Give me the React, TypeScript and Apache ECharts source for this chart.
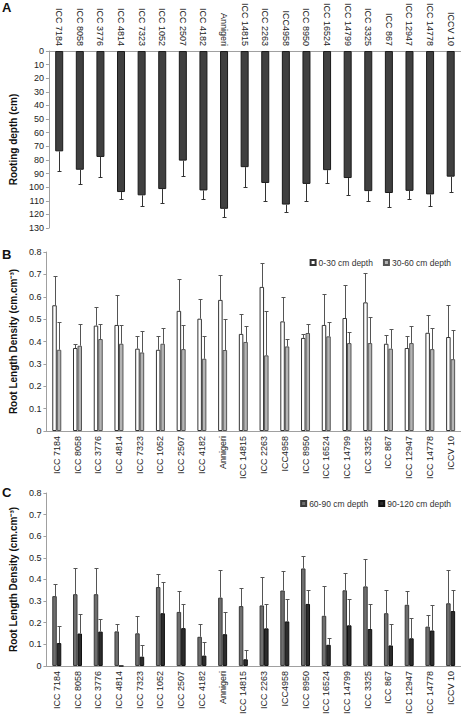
import React, { useEffect, useRef } from 'react';
import * as echarts from 'echarts';

const genotypes = ['ICC 7184', 'ICC 8058', 'ICC 3776', 'ICC 4814', 'ICC 7323', 'ICC 1052', 'ICC 2507', 'ICC 4182', 'Annigeri', 'ICC 14815', 'ICC 2263', 'ICC4958', 'ICC 8950', 'ICC 16524', 'ICC 14799', 'ICC 3325', 'ICC 867', 'ICC 12947', 'ICC 14778', 'ICCV 10'];

// Panel A: rooting depth (cm) and standard error
const rootingDepth = [73.7, 87.2, 77.8, 103.6, 106, 101.4, 80.5, 102.4, 115.9, 85.3, 96.9, 112.8, 97.6, 87.5, 93.3, 102.9, 104.3, 102.7, 105.3, 92.3];
const rootingDepthSE = [14.3, 10.6, 14.5, 5.4, 8, 10.1, 11.3, 6.6, 6, 14.5, 13.5, 5.8, 12.5, 9.8, 12.5, 7.2, 10.4, 6.3, 8.4, 11.1];

// Panel B: RLD 0-30 and 30-60 cm
const rld0to30 = [0.562, 0.371, 0.471, 0.474, 0.368, 0.363, 0.537, 0.502, 0.586, 0.434, 0.644, 0.49, 0.416, 0.474, 0.505, 0.575, 0.39, 0.371, 0.439, 0.42];
const rld0to30SE = [0.13, 0.019, 0.084, 0.134, 0.058, 0.06, 0.143, 0.089, 0.109, 0.089, 0.108, 0.108, 0.016, 0.137, 0.148, 0.132, 0.039, 0.052, 0.08, 0.145];
const rld30to60 = [0.363, 0.381, 0.411, 0.39, 0.351, 0.39, 0.366, 0.323, 0.362, 0.398, 0.338, 0.378, 0.438, 0.423, 0.393, 0.393, 0.368, 0.393, 0.366, 0.321];
const rld30to60SE = [0.124, 0.099, 0.069, 0.084, 0.097, 0.07, 0.108, 0.1, 0.139, 0.07, 0.197, 0.033, 0.04, 0.064, 0.048, 0.115, 0.088, 0.076, 0.094, 0.129];

// Panel C: RLD 60-90 and 90-120 cm
const rld60to90 = [0.323, 0.332, 0.332, 0.16, 0.151, 0.365, 0.25, 0.135, 0.316, 0.277, 0.28, 0.349, 0.451, 0.232, 0.35, 0.368, 0.244, 0.283, 0.182, 0.29];
const rld60to90SE = [0.057, 0.119, 0.119, 0.035, 0.081, 0.059, 0.096, 0.06, 0.126, 0.085, 0.132, 0.09, 0.057, 0.139, 0.079, 0.125, 0.108, 0.064, 0.054, 0.154];
const rld90to120 = [0.106, 0.15, 0.159, 0, 0.043, 0.244, 0.175, 0.048, 0.147, 0.031, 0.174, 0.206, 0.287, 0.098, 0.188, 0.171, 0.095, 0.128, 0.164, 0.254];
const rld90to120SE = [0.08, 0.091, 0.06, 0, 0.054, 0.144, 0.112, 0.061, 0.104, 0.042, 0.113, 0.102, 0.065, 0.03, 0.12, 0.116, 0.099, 0.093, 0.117, 0.096];

const depthTicks = { min: 0, max: 130, interval: 10 };
const rldTicks = { min: 0, max: 0.8, interval: 0.1 };

const FONT = "'Liberation Sans', Arial, sans-serif";
const AXIS_COLOR = '#a0a0a0';

function errorSeries(grid: number, values: number[], se: number[], offset: number, color: string) {
  return {
    type: 'custom',
    xAxisIndex: grid,
    yAxisIndex: grid,
    silent: true,
    z: 5,
    data: values.map((v, i) => [i, v, v + se[i]]),
    renderItem: (params: any, api: any) => {
      const x = api.value(0);
      const v = api.value(1);
      const e = api.value(2);
      if (!(e > v)) return null;
      const p0 = api.coord([x, v]);
      const p1 = api.coord([x, e]);
      const cx = Math.round(p0[0] + offset) + 0.5;
      const y1 = Math.round(p1[1]) + 0.5;
      return {
        type: 'group',
        children: [
          { type: 'line', shape: { x1: cx, y1: p0[1], x2: cx, y2: y1 }, style: { stroke: color, lineWidth: 1 } },
          { type: 'line', shape: { x1: cx - 2, y1, x2: cx + 2, y2: y1 }, style: { stroke: color, lineWidth: 1 } },
        ],
      };
    },
  };
}

function catAxis(grid: number, position: 'top' | 'bottom') {
  return {
    gridIndex: grid,
    type: 'category',
    data: genotypes,
    position,
    axisLine: { onZero: false, lineStyle: { color: AXIS_COLOR } },
    axisTick: { length: 3, lineStyle: { color: AXIS_COLOR } },
    axisLabel: { rotate: 90, interval: 0, fontSize: 9, margin: 5, color: '#222', fontFamily: FONT },
  };
}

function valAxis(grid: number, ticks: any, name: string, inverse: boolean, fmt: (v: number) => string) {
  return {
    gridIndex: grid,
    type: 'value',
    inverse,
    ...ticks,
    name,
    nameLocation: 'middle',
    nameGap: 24,
    nameTextStyle: { fontWeight: 'bold', fontSize: 10, color: '#111', fontFamily: FONT },
    splitLine: { show: false },
    axisLine: { show: true, lineStyle: { color: AXIS_COLOR } },
    axisTick: { show: true, length: 3, lineStyle: { color: AXIS_COLOR } },
    axisLabel: { fontSize: 9, margin: 5, color: '#222', fontFamily: FONT, formatter: fmt },
  };
}

const rldFmt = (v: number) => (v === 0 ? '0' : v.toFixed(1));

export default function App() {
  const ref = useRef<HTMLDivElement>(null);
  useEffect(() => {
    if (!ref.current) return;
    const chart = echarts.init(ref.current, undefined, { renderer: 'svg' });
    chart.setOption({
      animation: false,
      backgroundColor: '#ffffff',
      textStyle: { fontFamily: FONT },
      grid: [
        { left: 37, right: 0, top: 49, height: 179 },
        { left: 37, right: 0, top: 252, height: 179 },
        { left: 37, right: 0, top: 493, height: 178 },
      ],
      xAxis: [catAxis(0, 'top'), catAxis(1, 'bottom'), catAxis(2, 'bottom')],
      yAxis: [
        valAxis(0, depthTicks, 'Rooting depth (cm)', true, (v: number) => String(v)),
        valAxis(1, rldTicks, 'Root Length Density (cm.cm⁻³)', false, rldFmt),
        valAxis(2, rldTicks, 'Root Length Density (cm.cm⁻³)', false, rldFmt),
      ],
      legend: [
        {
          data: ['0-30 cm depth', '30-60 cm depth'],
          right: 5, top: 253, icon: 'rect', itemWidth: 5, itemHeight: 5, itemGap: 10,
          textStyle: { fontSize: 8.5, color: '#333', fontFamily: FONT, padding: [0, 0, 0, -2] },
        },
        {
          data: ['60-90 cm depth', '90-120 cm depth'],
          right: 5, top: 494, icon: 'rect', itemWidth: 5, itemHeight: 5, itemGap: 10,
          textStyle: { fontSize: 8.5, color: '#333', fontFamily: FONT, padding: [0, 0, 0, -2] },
        },
      ],
      graphic: [
        { type: 'text', left: 2, top: 1, style: { text: 'A', font: `bold 13px ${FONT}`, fill: '#111' } },
        { type: 'text', left: 2, top: 248, style: { text: 'B', font: `bold 13px ${FONT}`, fill: '#111' } },
        { type: 'text', left: 2, top: 486, style: { text: 'C', font: `bold 13px ${FONT}`, fill: '#111' } },
      ],
      series: [
        {
          name: 'Rooting depth', type: 'bar', xAxisIndex: 0, yAxisIndex: 0, barWidth: 8,
          data: rootingDepth,
          itemStyle: { color: '#404040', borderColor: '#1a1a1a', borderWidth: 1 },
        },
        errorSeries(0, rootingDepth, rootingDepthSE, 0, '#333'),
        {
          name: '0-30 cm depth', type: 'bar', xAxisIndex: 1, yAxisIndex: 1, barWidth: 4.5, barGap: '0%',
          data: rld0to30,
          itemStyle: { color: '#ffffff', borderColor: '#333', borderWidth: 1 },
        },
        {
          name: '30-60 cm depth', type: 'bar', xAxisIndex: 1, yAxisIndex: 1, barWidth: 4.5, barGap: '0%',
          data: rld30to60,
          itemStyle: { color: '#b4b4b4', borderColor: '#555', borderWidth: 1 },
        },
        errorSeries(1, rld0to30, rld0to30SE, -2.25, '#555'),
        errorSeries(1, rld30to60, rld30to60SE, 2.25, '#555'),
        {
          name: '60-90 cm depth', type: 'bar', xAxisIndex: 2, yAxisIndex: 2, barWidth: 4.5, barGap: '0%',
          data: rld60to90,
          itemStyle: { color: '#6e6e6e', borderColor: '#3a3a3a', borderWidth: 1 },
        },
        {
          name: '90-120 cm depth', type: 'bar', xAxisIndex: 2, yAxisIndex: 2, barWidth: 4.5, barGap: '0%',
          data: rld90to120,
          itemStyle: { color: '#2c2c2c', borderColor: '#111', borderWidth: 1 },
        },
        errorSeries(2, rld60to90, rld60to90SE, -2.25, '#555'),
        errorSeries(2, rld90to120, rld90to120SE, 2.25, '#555'),
      ],
    });
    return () => chart.dispose();
  }, []);
  return (
    <div
      ref={ref}
      style={{ position: 'fixed', left: 0, top: 0, width: 461, height: 717, background: '#fff' }}
    />
  );
}
